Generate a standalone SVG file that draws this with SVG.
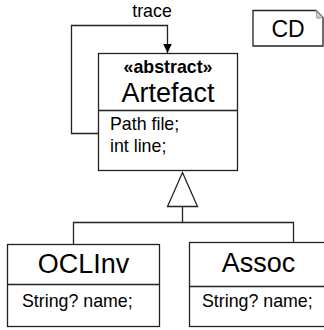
<svg xmlns="http://www.w3.org/2000/svg" width="324" height="330" viewBox="0 0 324 330">
<style>
.box{fill:#fff;stroke:#222;stroke-width:1.3}
.ln{fill:none;stroke:#222;stroke-width:1.3}
text{font-family:"Liberation Sans",Arial,sans-serif;fill:#000}
.big{font-size:27px;text-anchor:middle}
.attr{font-size:17.8px}
</style>
<defs>
<marker id="arr" markerWidth="10" markerHeight="10" refX="9.5" refY="5" orient="auto" markerUnits="userSpaceOnUse" viewBox="0 0 10 10">
<path d="M0,0.5 L9.5,5 L0,9.5 Z" fill="#000"/>
</marker>
</defs>
<g id="note-CD">
<path d="M253,10.5 H316 L323,17.5 V46 H253 Z" class="box"/>
<path d="M316,10.5 L323,17.5 L317,18.5 Z" fill="#ccc" stroke="#888" stroke-width="0.8"/>
<text x="288" y="37" style="font-size:23px;text-anchor:middle">CD</text>
</g>
<g id="Artefact">
<rect x="98.5" y="53.5" width="139" height="117" class="box"/>
<line x1="98.5" y1="110.5" x2="237.5" y2="110.5" class="ln"/>
<text x="168" y="73" style="font-size:17.8px;font-weight:bold;text-anchor:middle">«abstract»</text>
<text x="168" y="102" class="big">Artefact</text>
<text x="110" y="129.5" class="attr">Path file;</text>
<text x="110" y="151.5" class="attr">int line;</text>
</g>
<g id="OCLInv">
<rect x="7.5" y="244.5" width="152" height="82" class="box"/>
<line x1="7.5" y1="284.5" x2="159.5" y2="284.5" class="ln"/>
<text x="83.5" y="273" class="big">OCLInv</text>
<text x="22" y="307" class="attr">String? name;</text>
</g>
<g id="Assoc">
<rect x="189.5" y="242.5" width="150" height="84" class="box"/>
<line x1="189.5" y1="286.5" x2="339.5" y2="286.5" class="ln"/>
<text x="258.5" y="272" class="big">Assoc</text>
<text x="202" y="307" class="attr">String? name;</text>
</g>
<g id="connectors">
<path d="M98.5,133.5 H71.5 V25.5 H167.5 V53" class="ln" marker-end="url(#arr)"/>
<text x="152" y="17" style="font-size:17.8px;text-anchor:middle">trace</text>
<path d="M182.5,172.5 L197.5,206.5 H167.5 Z" class="box"/>
<path d="M182.5,206.5 V222.5 M73.5,244.5 V222.5 H293.5 V242.5" class="ln"/>
</g>
</svg>
